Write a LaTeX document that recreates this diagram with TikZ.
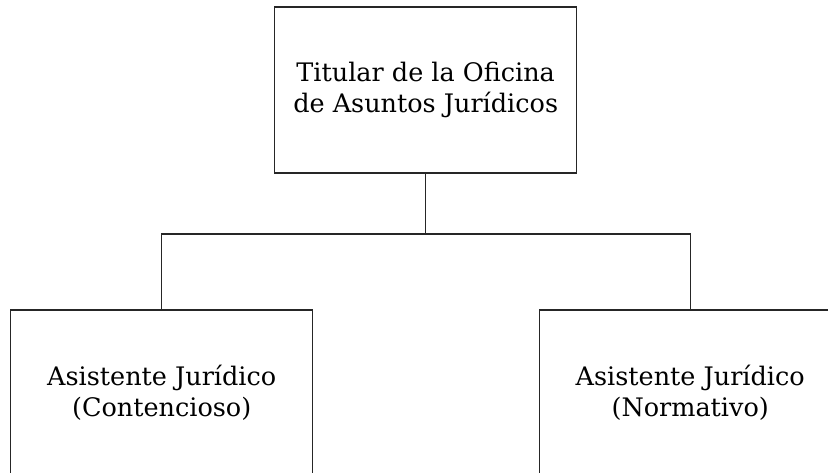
\documentclass[tikz,border=0pt]{standalone}
\usepackage{fontspec}
\setmainfont{DejaVu Serif}
\begin{document}
\begin{tikzpicture}[x=1pt,y=-1pt,
  orgbox/.style={draw=black!85, line width=1.3pt, rectangle, inner sep=0pt,
    minimum width=302pt, minimum height=166pt, align=center,
    font=\fontsize{25.5}{31}\selectfont},
  link/.style={draw=black!85, line width=1.3pt}]
\useasboundingbox (0,0) rectangle (828,472);
\clip (0,0) rectangle (828,472);
\node[orgbox] (top) at (425.7,90) {Titular de la Oficina\\de Asuntos Jurídicos};
\node[orgbox] (left) at (161.7,393) {Asistente Jurídico\\(Contencioso)};
\node[orgbox] (right) at (690.2,393) {Asistente Jurídico\\(Normativo)};
\coordinate (j) at (425.7,234);
\draw[link] (top.south) -- (j);
\draw[link] (left.north) |- (j) -| (right.north);
\end{tikzpicture}
\end{document}
